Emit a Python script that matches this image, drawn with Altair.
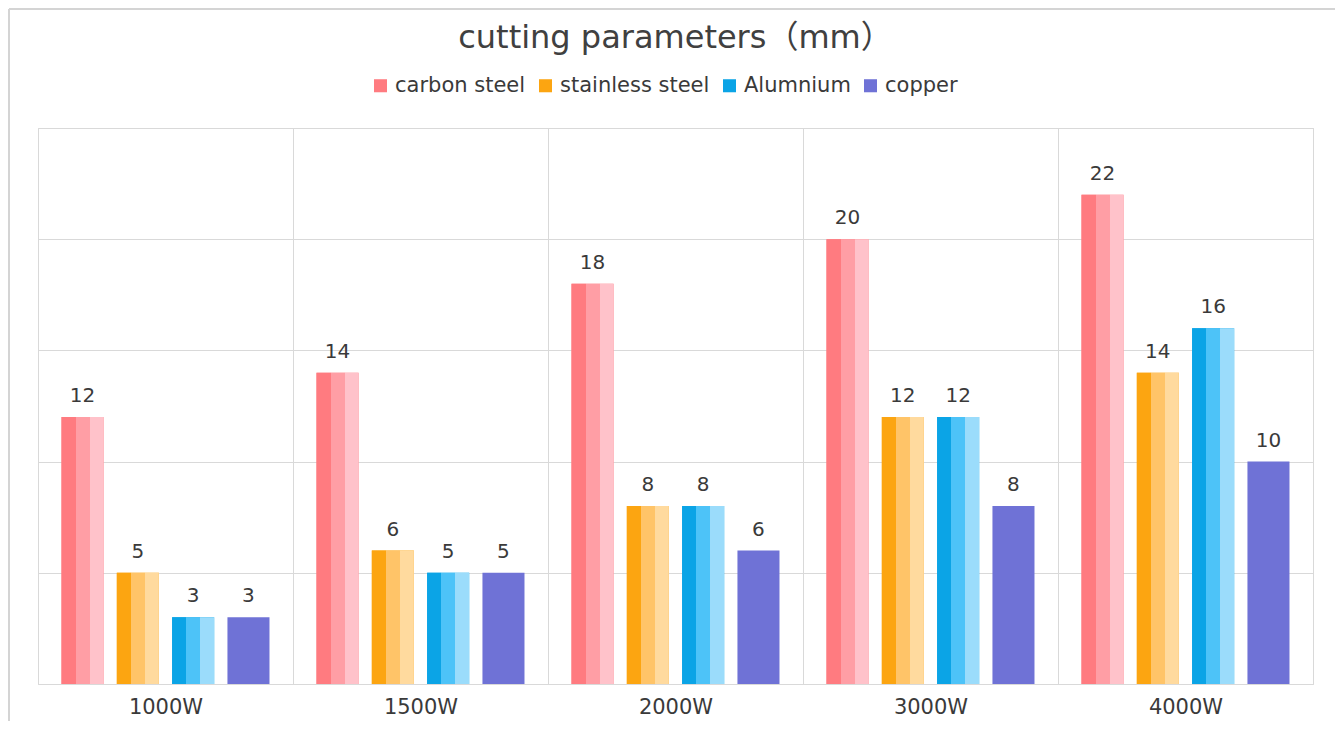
import altair as alt
import pandas as pd

categories = ["1000W", "1500W", "2000W", "3000W", "4000W"]
series = ["carbon steel", "stainless steel", "Alumnium", "copper"]
carbon = [12, 14, 18, 20, 22]
stainless = [5, 6, 8, 12, 14]
aluminium = [3, 5, 8, 12, 16]
copper = [3, 5, 6, 8, 10]

dark = ["#FF7B80", "#FCA511", "#0BA4E6", "#6F72D6"]
mid = ["#FF9EA5", "#FFC468", "#4DC3F8", "#6F72D6"]
light = ["#FFC2CA", "#FFDA9E", "#9BDCFB", "#6F72D6"]

FONT = "'DejaVu Sans', 'Noto Sans CJK SC', sans-serif"

rows = []
for s, vals in zip(series, [carbon, stainless, aluminium, copper]):
    for c, v in zip(categories, vals):
        rows.append({"power": c, "material": s, "value": v})
df = pd.DataFrame(rows)

x = alt.X(
    "power:N", sort=categories,
    scale=alt.Scale(paddingInner=0, paddingOuter=0),
    axis=alt.Axis(title=None, labelAngle=0, ticks=False, domain=False, grid=True,
                  tickBand="extent", gridColor="#d9d9d9", labelFontSize=21,
                  labelColor="#3a3a3a", labelPadding=12, labelFont=FONT),
)
xo = alt.XOffset("material:N", sort=series,
                 scale=alt.Scale(domain=series, paddingInner=0.24, paddingOuter=0.425))
y = alt.Y("value:Q", scale=alt.Scale(domain=[0, 25]),
          axis=alt.Axis(title=None, labels=False, ticks=False, domain=False,
                        values=[0, 5, 10, 15, 20, 25], gridColor="#d9d9d9"))

base = alt.Chart(df).mark_bar().encode(
    x=x, xOffset=xo, y=y,
    color=alt.Color("material:N", sort=series,
                    scale=alt.Scale(domain=series, range=dark),
                    legend=alt.Legend(title=None, orient="none", direction="horizontal",
                                      legendX=332, legendY=-53, symbolType="square",
                                      symbolSize=170, labelFontSize=21, labelColor="#3a3a3a",
                                      labelFont=FONT, columnPadding=9, symbolStrokeWidth=0)),
)

layers = [base]
for i, s in enumerate(series[:3]):
    grad = alt.Gradient(
        gradient="linear", x1=0, x2=1, y1=0, y2=0,
        stops=[
            alt.GradientStop(offset=0, color=dark[i]),
            alt.GradientStop(offset=0.333, color=dark[i]),
            alt.GradientStop(offset=0.334, color=mid[i]),
            alt.GradientStop(offset=0.666, color=mid[i]),
            alt.GradientStop(offset=0.667, color=light[i]),
            alt.GradientStop(offset=1, color=light[i]),
        ],
    )
    layers.append(
        alt.Chart(df).transform_filter(alt.datum.material == s)
        .mark_bar(fill=grad).encode(x=x, xOffset=xo, y=y)
    )

text = alt.Chart(df).mark_text(dy=-11, baseline="bottom", fontSize=20, color="#3a3a3a",
                               font=FONT).encode(x=x, xOffset=xo, y=y, text="value:Q")
layers.append(text)

# decorative outer frame (left and top edges of the picture frame)
frame_df = pd.DataFrame({"k": [0]})
frame_left = alt.Chart(frame_df).mark_rule(color="#d4d4d4", strokeWidth=2).encode(
    x=alt.value(-29), y=alt.value(-119), y2=alt.value(600))
frame_top = alt.Chart(frame_df).mark_rule(color="#d4d4d4", strokeWidth=2).encode(
    x=alt.value(-29), x2=alt.value(1300), y=alt.value(-119))
layers += [frame_left, frame_top]

chart = alt.layer(*layers).properties(
    width=1275, height=556,
    autosize="none",
    padding={"left": 30, "top": 120, "right": 22, "bottom": 37},
    title=alt.TitleParams("cutting parameters（mm）", fontSize=32, font=FONT,
                          color="#404040", fontWeight="normal", anchor="middle", offset=-47),
).configure_view(stroke="#d9d9d9", strokeWidth=1)

chart.save("out.html", embed_options={"renderer": "svg", "actions": False})
